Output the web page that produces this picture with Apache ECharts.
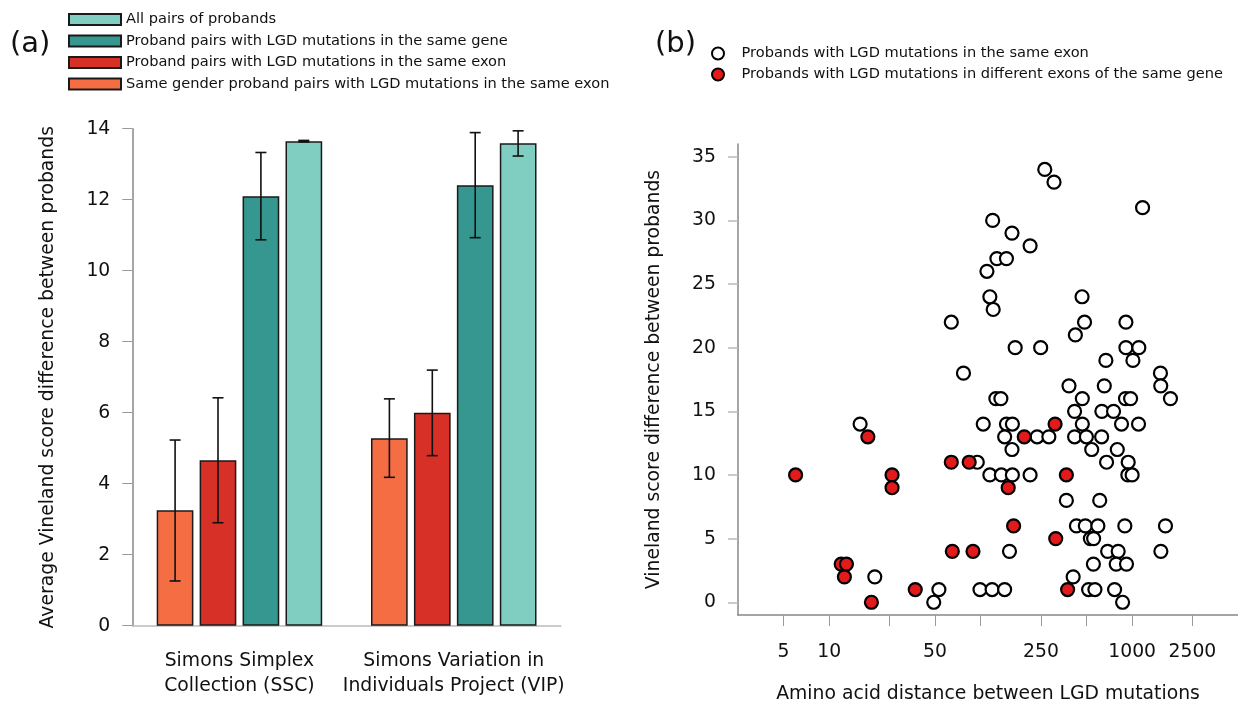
<!DOCTYPE html>
<html>
<head>
<meta charset="utf-8">
<script src="https://cdn.jsdelivr.net/npm/echarts@6/dist/echarts.min.js"></script>
<style>
html,body{margin:0;padding:0;background:#fff;}
#chart{width:1238px;height:709px;}
</style>
</head>
<body>
<div id="chart"></div>
<script>
// ---------- Panel (a) data ----------
const categories = ['Simons Simplex\nCollection (SSC)', 'Simons Variation in\nIndividuals Project (VIP)'];
const barNames = [
  'Same gender proband pairs with LGD mutations in the same exon',
  'Proband pairs with LGD mutations in the same exon',
  'Proband pairs with LGD mutations in the same gene',
  'All pairs of probands'
];
const sameGenderExon = [3.25, 5.28];
const sameGenderExonLow = [1.26, 4.18];
const sameGenderExonHigh = [5.23, 6.39];
const sameExon = [4.66, 6.0];
const sameExonLow = [2.90, 4.79];
const sameExonHigh = [6.42, 7.20];
const sameGene = [12.10, 12.41];
const sameGeneLow = [10.87, 10.93];
const sameGeneHigh = [13.33, 13.89];
const allPairs = [13.65, 13.59];
const allPairsLow = [13.63, 13.23];
const allPairsHigh = [13.67, 13.94];

// ---------- Panel (b) data: [amino acid distance, Vineland score difference] ----------
const scatterNames = [
  'Probands with LGD mutations in the same exon',
  'Probands with LGD mutations in different exons of the same gene'
];
const sameExonPoints = [
  [64,22],[77,18],[265,34],[305,33],[1172,31],[120,30],[161,29],[212,28],[128,27],[148,27],
  [110,26],[115,24],[467,24],[121,23],[485,22],[910,22],[422,21],[169,20],[249,20],[910,20],
  [1107,20],[671,19],[1012,19],[1538,18],[383,17],[655,17],[1545,17],[126,16],[136,16],[469,16],
  [904,16],[977,16],[1791,16],[417,15],[631,15],[754,15],[16,14],[104,14],[148,14],[162,14],
  [469,14],[851,14],[1102,14],[144,13],[236,13],[282,13],[417,13],[499,13],[629,13],[161,12],
  [541,12],[798,12],[95,11],[678,11],[942,11],[115,10],[137,10],[162,10],[212,10],[937,10],
  [1000,10],[368,8],[611,8],[429,6],[491,6],[594,6],[895,6],[1660,6],[530,5],[557,5],
  [155,4],[689,4],[809,4],[1548,4],[555,3],[785,3],[918,3],[20,2],[408,2],[53,1],
  [99,1],[119,1],[144,1],[516,1],[568,1],[766,1],[49,0],[865,0]
];
const diffExonPoints = [
  [6,10],[26,10],[26,9],[18,13],[64,11],[84,11],[65,4],[89,4],[12,3],[13,3],
  [12.6,2],[19,0],[37,1],[310,14],[194,13],[368,10],[152,9],[165,6],[313,5],[375,1]
];
const xTickValues = [5, 10, 25, 50, 100, 250, 500, 1000, 2500];
const xLabelValues = [5, 10, 50, 250, 1000, 2500];
const scatterYTicks = [0, 5, 10, 15, 20, 25, 30, 35];

const FONT = 'DejaVu Sans';
const colors = ['#f46d43', '#d73027', '#35978f', '#80cdc1'];
const barValues = [sameGenderExon, sameExon, sameGene, allPairs];
const barLows = [sameGenderExonLow, sameExonLow, sameGeneLow, allPairsLow];
const barHighs = [sameGenderExonHigh, sameExonHigh, sameGeneHigh, allPairsHigh];
const BAR_W = 36.7, BAR_STEP = 42.9;

const series = [];
barValues.forEach((vals, k) => {
  series.push({
    type: 'bar', name: barNames[k], xAxisIndex: 0, yAxisIndex: 0,
    data: vals, barWidth: BAR_W, barGap: '17%',
    itemStyle: { color: colors[k], borderColor: '#1a1a1a', borderWidth: 1.5 },
    z: 2
  });
});
barValues.forEach((vals, k) => {
  const offset = (k - 1.5) * BAR_STEP;
  series.push({
    type: 'custom', name: 'err' + k, xAxisIndex: 0, yAxisIndex: 0, z: 5,
    data: categories.map((c, i) => [i, barLows[k][i], barHighs[k][i]]),
    encode: { x: 0, y: [1, 2] },
    renderItem: function (params, api) {
      const ci = api.value(0);
      const lo = api.coord([ci, api.value(1)]);
      const hi = api.coord([ci, api.value(2)]);
      const x = lo[0] + offset;
      const cap = 5.5;
      const st = { stroke: '#111', lineWidth: 1.6 };
      return { type: 'group', children: [
        { type: 'line', shape: { x1: x, y1: lo[1], x2: x, y2: hi[1] }, style: st },
        { type: 'line', shape: { x1: x - cap, y1: lo[1], x2: x + cap, y2: lo[1] }, style: st },
        { type: 'line', shape: { x1: x - cap, y1: hi[1], x2: x + cap, y2: hi[1] }, style: st }
      ]};
    }
  });
});
series.push({
  type: 'scatter', name: scatterNames[0], xAxisIndex: 1, yAxisIndex: 1,
  data: sameExonPoints, symbol: 'circle', symbolSize: 13,
  itemStyle: { color: '#ffffff', borderColor: '#000', borderWidth: 2.2, opacity: 1 }, z: 3
});
series.push({
  type: 'scatter', name: scatterNames[1], xAxisIndex: 1, yAxisIndex: 1,
  data: diffExonPoints, symbol: 'circle', symbolSize: 13,
  itemStyle: { color: '#e31a1c', borderColor: '#000', borderWidth: 2.2, opacity: 1 }, z: 4
});

const chart = echarts.init(document.getElementById('chart'), null, { renderer: 'canvas' });
chart.setOption({
  animation: false,
  backgroundColor: '#fff',
  textStyle: { fontFamily: FONT },
  title: [
    { text: '(a)', left: 5, top: 25, textStyle: { fontSize: 29, fontWeight: 'normal', color: '#111', fontFamily: FONT } },
    { text: '(b)', left: 650, top: 25, textStyle: { fontSize: 29, fontWeight: 'normal', color: '#111', fontFamily: FONT } }
  ],
  legend: [
    {
      orient: 'vertical', left: 63, top: 7, itemWidth: 52, itemHeight: 11, itemGap: 6.5,
      icon: 'rect',
      data: barNames.slice().reverse(),
      textStyle: { fontSize: 14.6, color: '#111', fontFamily: FONT },
      selectedMode: false
    },
    {
      orient: 'vertical', left: 706, top: 41, itemWidth: 37, itemHeight: 12, itemGap: 6,
      data: scatterNames,
      textStyle: { fontSize: 14.6, color: '#111', fontFamily: FONT },
      selectedMode: false
    }
  ],
  grid: [
    { left: 132.3, top: 128.7, width: 428.6, height: 497, containLabel: false },
    { left: 738, top: 144, width: 501, height: 481, containLabel: false }
  ],
  xAxis: [
    {
      gridIndex: 0, type: 'category', data: categories,
      axisLine: { lineStyle: { color: '#bbbbbb', width: 1.5 } },
      axisTick: { alignWithLabel: true, length: 10, lineStyle: { color: '#888' } },
      axisLabel: { fontSize: 18.8, color: '#111', lineHeight: 25, margin: 23, interval: 0, fontFamily: FONT }
    },
    {
      gridIndex: 1, type: 'log', min: 2.5, max: 5000, logBase: 10,
      name: 'Amino acid distance between LGD mutations', nameLocation: 'middle', nameGap: 70,
      nameTextStyle: { fontSize: 18.8, color: '#111', fontFamily: FONT },
      axisLine: { onZero: false, lineStyle: { color: '#888', width: 1.5 } },
      axisTick: { length: 11, customValues: xTickValues, lineStyle: { color: '#999' } },
      axisLabel: { fontSize: 18.8, color: '#111', margin: 28, customValues: xLabelValues, fontFamily: FONT,
                   formatter: v => String(Math.round(v)) },
      splitLine: { show: false }, minorTick: { show: false }
    }
  ],
  yAxis: [
    {
      gridIndex: 0, type: 'value', min: 0, max: 14, interval: 2,
      name: 'Average Vineland score difference between probands', nameLocation: 'middle', nameGap: 75,
      nameTextStyle: { fontSize: 18.8, color: '#111', fontFamily: FONT },
      axisLine: { show: true, lineStyle: { color: '#888', width: 1.5 } },
      axisTick: { show: true, length: 10, lineStyle: { color: '#999' } },
      axisLabel: { fontSize: 18.8, color: '#111', margin: 22, fontFamily: FONT },
      splitLine: { show: false }
    },
    {
      gridIndex: 1, type: 'value', min: -1, max: 36,
      name: 'Vineland score difference between probands', nameLocation: 'middle', nameGap: 74,
      nameTextStyle: { fontSize: 18.8, color: '#111', fontFamily: FONT },
      axisLine: { show: true, onZero: false, lineStyle: { color: '#888', width: 1.5 } },
      axisTick: { show: true, length: 10, customValues: scatterYTicks, lineStyle: { color: '#bbb', width: 1.5 } },
      axisLabel: { fontSize: 18.8, color: '#111', margin: 22, customValues: scatterYTicks, fontFamily: FONT },
      splitLine: { show: false }
    }
  ],
  series: series
});
</script>
</body>
</html>
